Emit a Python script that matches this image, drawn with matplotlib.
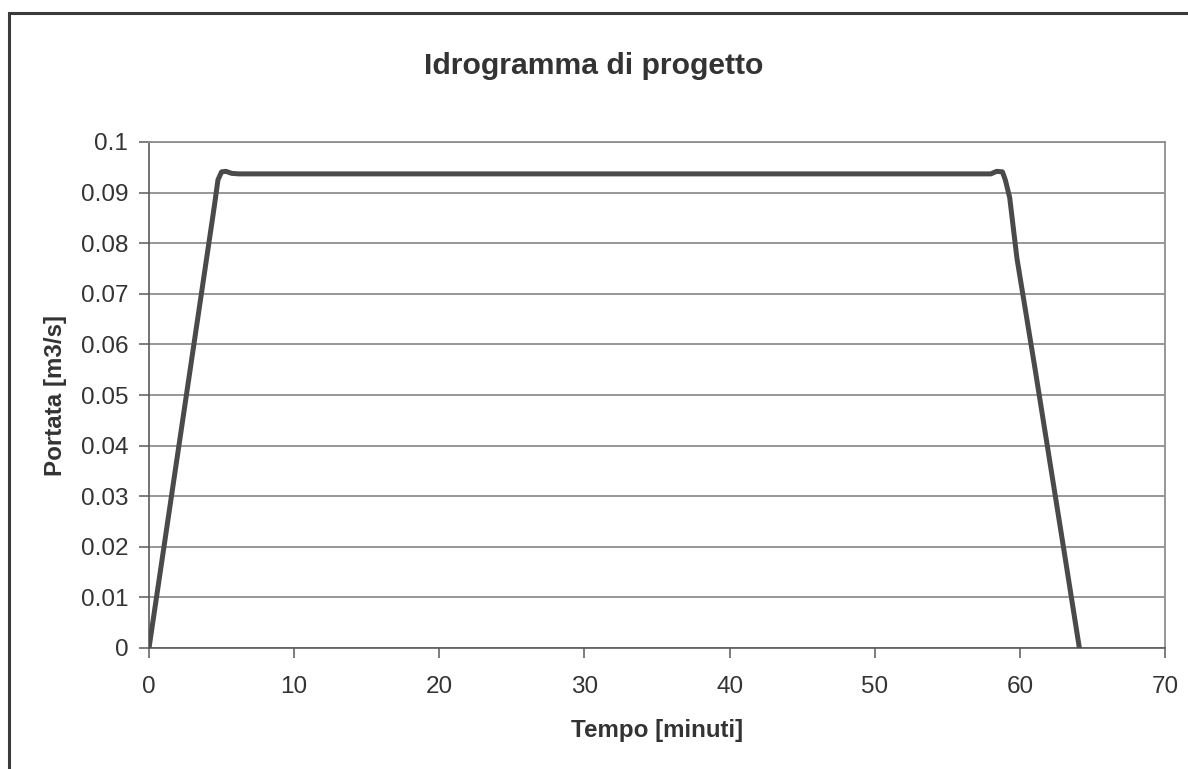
import matplotlib
matplotlib.use("Agg")
import matplotlib.pyplot as plt
from matplotlib.patches import Rectangle

# Data
tempo = [0, 1, 2, 3, 4, 4.5, 4.75, 5.0, 5.3, 5.7, 6.2, 10, 20, 30, 40, 50, 58.0, 58.4, 58.8, 59.0, 59.3, 59.8, 61, 62, 63, 64.1]
portata = [0, 0.0194, 0.0388, 0.0582, 0.0776, 0.0873, 0.0925, 0.0941, 0.0942, 0.0938, 0.0937, 0.0937, 0.0937, 0.0937, 0.0937, 0.0937,
           0.0937, 0.0942, 0.0941, 0.0925, 0.0890, 0.0770, 0.0560, 0.0380, 0.0200, 0.0]
xticks = [0, 10, 20, 30, 40, 50, 60, 70]
yticks = [0, 0.01, 0.02, 0.03, 0.04, 0.05, 0.06, 0.07, 0.08, 0.09, 0.1]
yticklabels = ["0", "0.01", "0.02", "0.03", "0.04", "0.05", "0.06", "0.07", "0.08", "0.09", "0.1"]

plt.rcParams['font.family'] = ['Liberation Sans', 'DejaVu Sans']

W, H = 1188, 769
fig = plt.figure(figsize=(W / 100, H / 100), dpi=100)
fig.patch.set_facecolor("white")

# outer chart frame
fig.add_artist(Rectangle((9 / W, -0.05), 1.2, 1 - 13 / H + 0.05, transform=fig.transFigure,
                         fill=False, edgecolor="#3a3a3a", linewidth=2.2))

ax = fig.add_axes([149 / W, 1 - 648 / H, (1165 - 149) / W, (648 - 142) / H])
ax.plot(tempo, portata, color="#4a4a4a", linewidth=3.6, solid_joinstyle="round", zorder=3)

ax.set_xlim(0, 70)
ax.set_ylim(0, 0.1)
ax.set_xticks(xticks)
ax.set_yticks(yticks)
ax.set_yticklabels(yticklabels)
ax.yaxis.grid(True, color="#8f8f8f", linewidth=1.3)
ax.set_axisbelow(True)

for s in ["left", "bottom"]:
    ax.spines[s].set_color("#5a5a5a")
    ax.spines[s].set_linewidth(1.2)
for s in ["right", "top"]:
    ax.spines[s].set_color("#8f8f8f")
    ax.spines[s].set_linewidth(1.3)

ax.tick_params(axis="both", direction="out", length=7, width=1.1, color="#5a5a5a",
               labelsize=17.5, labelcolor="#333333")
ax.tick_params(axis="x", pad=13)
ax.tick_params(axis="y", pad=8)

ax.set_xlabel("Tempo [minuti]", fontsize=17.4, fontweight="bold", color="#333333", labelpad=15)
ax.set_ylabel("Portata [m3/s]", fontsize=17.4, fontweight="bold", color="#333333", labelpad=10)
fig.text(0.5, 1 - 66 / H, "Idrogramma di progetto", ha="center", va="center",
         fontsize=21.7, fontweight="bold", color="#333333")

fig.savefig("out.png", dpi=100)
